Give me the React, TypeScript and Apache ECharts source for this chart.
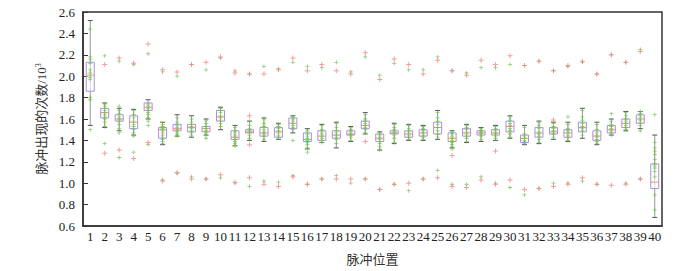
import React, { useEffect, useRef } from "react";
import * as echarts from "echarts";

const categories: string[] = Array.from({ length: 40 }, (_, i) => String(i + 1));

// [min, q1, median, q3, max]
const boxStats: number[][] = [
  [1.54, 1.86, 2.01, 2.13, 2.52], [1.52, 1.61, 1.66, 1.70, 1.75], [1.49, 1.58, 1.60, 1.64, 1.70], [1.45, 1.51, 1.57, 1.63, 1.69],
  [1.60, 1.68, 1.71, 1.75, 1.78], [1.36, 1.42, 1.50, 1.52, 1.57], [1.44, 1.49, 1.51, 1.55, 1.64], [1.43, 1.48, 1.52, 1.55, 1.63],
  [1.45, 1.48, 1.51, 1.53, 1.60], [1.50, 1.58, 1.62, 1.68, 1.71], [1.35, 1.41, 1.43, 1.49, 1.54], [1.40, 1.47, 1.48, 1.50, 1.58],
  [1.39, 1.44, 1.47, 1.52, 1.61], [1.41, 1.43, 1.48, 1.52, 1.56], [1.47, 1.51, 1.56, 1.61, 1.63], [1.32, 1.39, 1.41, 1.47, 1.51],
  [1.38, 1.40, 1.44, 1.49, 1.55], [1.33, 1.42, 1.45, 1.49, 1.57], [1.39, 1.45, 1.46, 1.49, 1.53], [1.46, 1.51, 1.54, 1.58, 1.66],
  [1.31, 1.39, 1.42, 1.46, 1.48], [1.37, 1.46, 1.47, 1.49, 1.56], [1.40, 1.43, 1.46, 1.49, 1.55], [1.40, 1.44, 1.47, 1.50, 1.54],
  [1.41, 1.46, 1.52, 1.57, 1.68], [1.33, 1.39, 1.42, 1.47, 1.49], [1.38, 1.44, 1.47, 1.51, 1.55], [1.39, 1.45, 1.47, 1.49, 1.52],
  [1.40, 1.45, 1.47, 1.50, 1.54], [1.42, 1.48, 1.53, 1.58, 1.63], [1.36, 1.38, 1.42, 1.45, 1.54], [1.37, 1.43, 1.47, 1.52, 1.58],
  [1.41, 1.46, 1.48, 1.52, 1.57], [1.39, 1.43, 1.47, 1.50, 1.57], [1.42, 1.48, 1.52, 1.57, 1.70], [1.36, 1.40, 1.44, 1.49, 1.57],
  [1.45, 1.47, 1.50, 1.54, 1.60], [1.49, 1.52, 1.56, 1.60, 1.67], [1.51, 1.56, 1.60, 1.64, 1.67], [0.68, 0.95, 1.01, 1.18, 1.45],
];

const greenPoints: number[][] = [
  [2.44, 2.18, 2.16, 2.12, 2.06, 2.03, 1.99, 1.97, 1.80, 1.78, 1.50],
  [2.19, 1.74, 1.72, 1.70, 1.68, 1.66, 1.64, 1.62, 1.60, 1.57, 1.53, 1.37],
  [2.14, 1.72, 1.68, 1.65, 1.62, 1.60, 1.58, 1.55, 1.51, 1.47, 1.24],
  [2.11, 1.68, 1.64, 1.61, 1.58, 1.55, 1.53, 1.50, 1.47, 1.44, 1.29],
  [2.21, 1.74, 1.72, 1.70, 1.68, 1.66, 1.64, 1.61, 1.58, 1.54, 1.36],
  [2.04, 1.55, 1.53, 1.51, 1.49, 1.47, 1.45, 1.43, 1.41, 1.39, 1.37, 1.03],
  [2.00, 1.61, 1.57, 1.54, 1.52, 1.50, 1.48, 1.46, 1.44, 1.09],
  [2.11, 1.60, 1.57, 1.55, 1.53, 1.51, 1.49, 1.47, 1.45, 1.06],
  [2.06, 1.59, 1.56, 1.53, 1.51, 1.49, 1.47, 1.45, 1.42, 1.04],
  [2.17, 1.70, 1.68, 1.66, 1.63, 1.61, 1.59, 1.56, 1.53, 1.05],
  [2.05, 1.52, 1.49, 1.47, 1.45, 1.43, 1.41, 1.39, 1.37, 1.35, 1.00],
  [2.02, 1.58, 1.54, 1.51, 1.49, 1.47, 1.45, 1.42, 0.97],
  [2.09, 1.60, 1.56, 1.53, 1.50, 1.48, 1.46, 1.44, 1.41, 1.02],
  [2.07, 1.55, 1.53, 1.51, 1.49, 1.47, 1.45, 1.43, 1.01],
  [2.13, 1.62, 1.60, 1.58, 1.56, 1.54, 1.52, 1.50, 1.40, 1.07],
  [2.09, 1.49, 1.46, 1.44, 1.42, 1.40, 1.38, 1.36, 1.33, 1.29, 0.99],
  [2.08, 1.54, 1.50, 1.48, 1.46, 1.44, 1.42, 1.40, 1.38, 1.04],
  [2.13, 1.56, 1.52, 1.49, 1.47, 1.45, 1.43, 1.41, 1.37, 1.07],
  [2.04, 1.52, 1.50, 1.48, 1.46, 1.45, 1.43, 1.40, 1.00],
  [2.18, 1.64, 1.60, 1.58, 1.56, 1.54, 1.52, 1.50, 1.47, 1.04],
  [2.01, 1.47, 1.45, 1.43, 1.41, 1.39, 1.37, 1.34, 1.31, 0.94],
  [2.12, 1.55, 1.52, 1.50, 1.48, 1.47, 1.45, 1.42, 1.38, 0.99],
  [2.06, 1.54, 1.51, 1.49, 1.47, 1.45, 1.43, 1.41, 0.93],
  [2.06, 1.53, 1.51, 1.49, 1.47, 1.45, 1.43, 1.41, 1.04],
  [2.18, 1.66, 1.61, 1.58, 1.55, 1.52, 1.49, 1.46, 1.43, 1.12],
  [2.05, 1.48, 1.46, 1.44, 1.42, 1.40, 1.38, 1.36, 1.34, 1.32, 0.99],
  [2.03, 1.54, 1.52, 1.50, 1.48, 1.46, 1.44, 1.42, 1.39, 0.99],
  [2.08, 1.51, 1.49, 1.48, 1.47, 1.46, 1.44, 1.41, 1.06],
  [2.08, 1.53, 1.51, 1.49, 1.47, 1.46, 1.44, 1.42, 1.00],
  [2.11, 1.62, 1.59, 1.56, 1.54, 1.51, 1.49, 1.46, 1.43, 0.96],
  [2.10, 1.52, 1.46, 1.44, 1.42, 1.40, 1.39, 1.37, 0.89],
  [2.14, 1.57, 1.54, 1.51, 1.48, 1.46, 1.44, 1.41, 1.38, 0.95],
  [2.05, 1.56, 1.53, 1.51, 1.49, 1.48, 1.46, 1.43, 1.00],
  [2.09, 1.62, 1.55, 1.51, 1.49, 1.47, 1.45, 1.43, 1.40, 1.00],
  [2.13, 1.68, 1.62, 1.59, 1.56, 1.53, 1.51, 1.49, 1.45, 1.02],
  [2.02, 1.55, 1.50, 1.47, 1.45, 1.43, 1.41, 1.39, 1.37, 0.99],
  [2.20, 1.65, 1.58, 1.55, 1.53, 1.51, 1.49, 1.47, 1.45],
  [2.13, 1.66, 1.63, 1.60, 1.58, 1.56, 1.54, 1.52, 1.50, 1.00],
  [2.25, 1.67, 1.65, 1.63, 1.61, 1.59, 1.57, 1.54, 1.49, 1.04],
  [1.64, 1.38, 1.33, 1.30, 1.27, 1.22, 1.18, 1.16, 1.14, 1.11, 1.06, 0.89, 0.75],
];

const pinkPoints: number[][] = [
  [], [2.11, 1.28], [2.17, 1.31], [2.12, 1.23], [2.30, 1.38], [2.06, 1.02], [2.04, 1.10], [2.11, 1.04],
  [2.13, 1.04], [2.18, 1.08], [2.03, 1.01], [2.02, 1.63, 1.36, 1.05], [2.02, 0.99], [2.06, 0.97], [2.17, 1.06], [2.05, 0.99],
  [2.11, 1.04], [2.05, 1.04], [2.02, 1.04], [2.22, 1.39, 1.04], [1.97, 0.94], [2.16, 0.99], [2.11, 1.00], [2.02, 1.04],
  [2.15, 1.05], [2.05, 1.26, 0.97], [2.01, 0.96], [2.15, 1.03], [2.11, 1.30, 0.99], [2.19, 1.03], [2.10, 0.94], [2.14, 0.95],
  [2.05, 1.59, 0.97], [2.10, 0.99], [2.14, 1.05], [2.02, 0.99], [2.20, 0.98], [2.13, 0.99], [2.23, 1.04], [],
];

const yTicks = { min: 0.6, max: 2.6, interval: 0.2 };

const PLUS = "path://M4,0H6V4H10V6H6V10H4V6H0V4H4Z";
const FONT = "'Liberation Serif', 'Times New Roman', 'Noto Sans CJK SC', serif";

export default function App() {
  const ref = useRef<HTMLDivElement>(null);
  useEffect(() => {
    if (!ref.current) return;
    const chart = echarts.init(ref.current, undefined, { renderer: "svg" });
    const boxData = boxStats.map((s, i) => [i, ...s]);
    const green: number[][] = [];
    greenPoints.forEach((arr, i) => arr.forEach((v) => green.push([i, v])));
    const pink: number[][] = [];
    pinkPoints.forEach((arr, i) => arr.forEach((v) => pink.push([i, v])));

    chart.setOption({
      animation: false,
      grid: { left: 83, right: 38, top: 12, bottom: 40, show: true, borderColor: "#333", borderWidth: 1.5, backgroundColor: "transparent" },
      xAxis: {
        type: "category",
        data: categories,
        boundaryGap: true,
        name: "脉冲位置",
        nameLocation: "middle",
        nameGap: 27,
        nameTextStyle: { fontFamily: FONT, fontSize: 13, color: "#333" },
        axisLine: { lineStyle: { color: "#333", width: 1.5 } },
        axisTick: { inside: true, alignWithLabel: true, length: 5, lineStyle: { color: "#333" } },
        axisLabel: { fontFamily: FONT, fontSize: 13, color: "#222", margin: 4, interval: 0 },
        splitLine: { show: false },
      },
      yAxis: {
        type: "value",
        min: yTicks.min,
        max: yTicks.max,
        interval: yTicks.interval,
        name: "{a|脉冲出现的次数/10}{s|3}",
        nameLocation: "middle",
        nameGap: 32,
        nameRotate: 90,
        nameTextStyle: {
          fontFamily: FONT, fontSize: 13, color: "#333",
          rich: { a: { fontFamily: FONT, fontSize: 13, color: "#333" }, s: { fontFamily: FONT, fontSize: 8, color: "#333", verticalAlign: "top", padding: [0, 0, 6, 0] } },
        },
        axisLine: { show: true, lineStyle: { color: "#333", width: 1.5 } },
        axisTick: { show: true, inside: true, length: 5, lineStyle: { color: "#333" } },
        axisLabel: { fontFamily: FONT, fontSize: 13, color: "#222", margin: 8, formatter: (v: number) => v.toFixed(1) },
        splitLine: { show: false },
      },
      series: [
        {
          type: "custom",
          data: boxData,
          encode: { x: 0, y: [1, 2, 3, 4, 5] },
          z: 2,
          renderItem: (params: any, api: any) => {
            const i = api.value(0);
            const pMin = api.coord([i, api.value(1)]);
            const pQ1 = api.coord([i, api.value(2)]);
            const pMed = api.coord([i, api.value(3)]);
            const pQ3 = api.coord([i, api.value(4)]);
            const pMax = api.coord([i, api.value(5)]);
            const x = pMin[0];
            const hw = 4;
            const cw = 2.5;
            const ws = { stroke: "#555", lineWidth: 1 };
            return {
              type: "group",
              children: [
                { type: "line", shape: { x1: x, y1: pMax[1], x2: x, y2: pMin[1] }, style: { stroke: "#999", lineWidth: 1 } },
                { type: "line", shape: { x1: x - cw, y1: pMax[1], x2: x + cw, y2: pMax[1] }, style: ws },
                { type: "line", shape: { x1: x - cw, y1: pMin[1], x2: x + cw, y2: pMin[1] }, style: ws },
                { type: "rect", shape: { x: x - hw, y: pQ3[1], width: hw * 2, height: pQ1[1] - pQ3[1] }, style: { fill: "rgba(255,255,255,0.6)", stroke: "#a792d8", lineWidth: 1 } },
                { type: "line", shape: { x1: x - hw, y1: pMed[1], x2: x + hw, y2: pMed[1] }, style: { stroke: "#f08c84", lineWidth: 1 } },
              ],
            };
          },
        },
        {
          type: "scatter",
          data: green,
          symbol: PLUS,
          symbolSize: 4,
          itemStyle: { color: "#6cbf45" },
          z: 3,
        },
        {
          type: "scatter",
          data: pink,
          symbol: PLUS,
          symbolSize: 5,
          itemStyle: { color: "#f4858a" },
          z: 4,
        },
      ],
    });
    return () => chart.dispose();
  }, []);
  return <div ref={ref} style={{ position: "absolute", left: 0, top: 0, width: 700, height: 271, background: "#fff" }} />;
}
